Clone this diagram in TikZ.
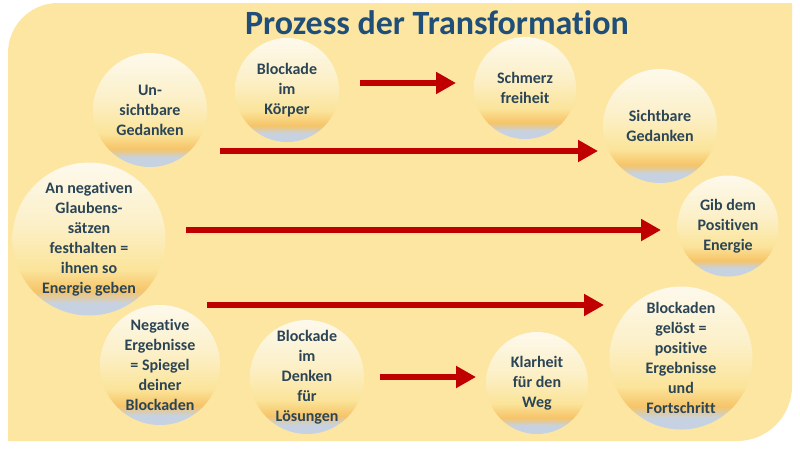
\documentclass[tikz,border=0pt]{standalone}
\usepackage{fontspec}
\setmainfont[Ligatures={NoCommon}]{Carlito}
\usetikzlibrary{arrows.meta}
\definecolor{bgyel}{HTML}{FCE6A2}
\definecolor{txt}{HTML}{2B4556}
\definecolor{ttl}{HTML}{1F4E79}
\definecolor{arr}{HTML}{C00000}
\definecolor{ballblue}{HTML}{C6D2E2}
\definecolor{ballorange}{HTML}{F6C468}
\definecolor{ballyel}{HTML}{FBE49A}
\definecolor{ballpale}{HTML}{FCF0C8}
\definecolor{balltop}{HTML}{FDF9EC}
\pgfdeclareverticalshading{ballshade}{100bp}{%
  color(0bp)=(ballblue); color(25bp)=(ballblue); color(29bp)=(ballblue);
  color(33bp)=(ballorange); color(40bp)=(ballyel); color(55bp)=(ballpale);
  color(75bp)=(balltop); color(100bp)=(balltop)}
\tikzset{
  ball/.style={circle, shading=ballshade, minimum size=#1, inner sep=0pt,
    align=center, text=txt, font=\fontsize{16}{20}\selectfont\bfseries},
  redarrow/.style={draw=arr, line width=6.5pt,
    -{Triangle[length=20pt,width=21pt]}, shorten >=0pt}
}
\begin{document}
\begin{tikzpicture}[x=1pt,y=-1pt]
\useasboundingbox (0,0) rectangle (800,450);
\fill[white] (0,0) rectangle (800,450);
% background
\fill[bgyel] (8,53) arc[start angle=180,end angle=270,radius=50] -- (792,3) -- (792,386)
  arc[start angle=0,end angle=90,radius=55] -- (8,441) -- cycle;
% title
\node[text=ttl, font=\fontsize{34}{36}\selectfont\bfseries] (title) at (437,23) {Prozess der Transformation};
% balls
\node[ball=114pt] (n1) at (150,110) {Un-\\sichtbare\\Gedanken};
\node[ball=104pt] (n2) at (287,90) {Blockade\\im\\Körper};
\node[ball=102pt] (n3) at (525,88) {Schmerz\\freiheit};
\node[ball=114pt] (n4) at (660,126) {Sichtbare\\Gedanken};
\node[ball=101pt] (n5) at (728,226) {Gib dem\\Positiven\\Energie};
\node[ball=153pt] (n6) at (89,239) {An negativen\\Glaubens-\\sätzen\\festhalten =\\ihnen so\\Energie geben};
\node[ball=120pt] (n7) at (160,365) {Negative\\Ergebnisse\\= Spiegel\\deiner\\Blockaden};
\node[ball=114pt] (n8) at (307,377) {Blockade\\im\\Denken\\für\\Lösungen};
\node[ball=102pt] (n9) at (537,383) {Klarheit\\für den\\Weg};
\node[ball=143pt] (n10) at (681,358) {Blockaden\\gelöst =\\positive\\Ergebnisse\\und\\Fortschritt};
% arrow anchors
\coordinate (a1s) at (360,83); \coordinate (a1e) at (456,83);
\coordinate (a2s) at (220,151); \coordinate (a2e) at (598,151);
\coordinate (a3s) at (186,230); \coordinate (a3e) at (661,230);
\coordinate (a4s) at (207,305); \coordinate (a4e) at (604,305);
\coordinate (a5s) at (380,377); \coordinate (a5e) at (476,377);
\draw[redarrow] (a1s) -- (a1e);
\draw[redarrow] (a2s) -- (a2e);
\draw[redarrow] (a3s) -- (a3e);
\draw[redarrow] (a4s) -- (a4e);
\draw[redarrow] (a5s) -- (a5e);
\end{tikzpicture}
\end{document}
